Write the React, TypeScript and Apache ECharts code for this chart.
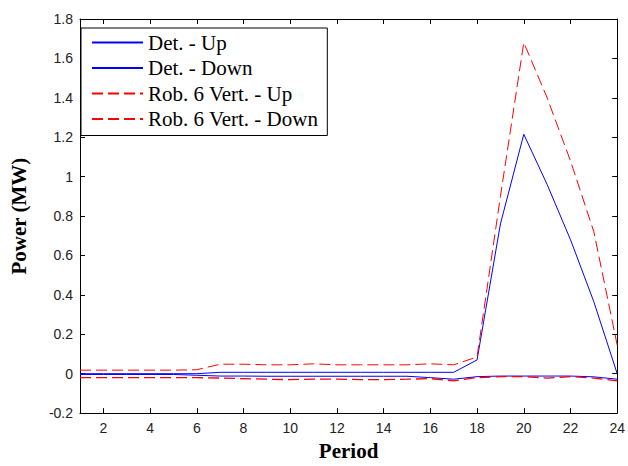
import React, { useEffect, useRef } from "react";
import * as echarts from "echarts";

const periods = Array.from({ length: 24 }, (_, i) => String(i + 1));

const detUp = [0, 0, 0, 0, 0, 0, 0.007, 0.007, 0.007, 0.007, 0.007, 0.007, 0.007, 0.007, 0.007, 0.007, 0.007, 0.07, 0.76, 1.215, 0.96, 0.68, 0.365, 0];
const detDown = [-0.004, -0.004, -0.004, -0.004, -0.004, -0.008, -0.012, -0.012, -0.013, -0.013, -0.013, -0.013, -0.013, -0.013, -0.013, -0.02, -0.028, -0.015, -0.012, -0.012, -0.012, -0.012, -0.016, -0.028];
const robUp = [0.018, 0.018, 0.018, 0.018, 0.018, 0.02, 0.048, 0.048, 0.045, 0.045, 0.05, 0.045, 0.045, 0.045, 0.045, 0.05, 0.045, 0.085, 0.9, 1.68, 1.4, 1.08, 0.72, 0.145];
const robDown = [-0.02, -0.02, -0.02, -0.02, -0.02, -0.02, -0.022, -0.025, -0.028, -0.03, -0.028, -0.028, -0.03, -0.03, -0.028, -0.025, -0.036, -0.02, -0.015, -0.015, -0.022, -0.015, -0.022, -0.036];

const seriesNames = ["Det. - Up", "Det. - Down", "Rob. 6 Vert. - Up", "Rob. 6 Vert. - Down"];

export default function App() {
  const ref = useRef<HTMLDivElement>(null);
  useEffect(() => {
    document.body.style.margin = "0";
    const chart = echarts.init(ref.current!, null, { renderer: "svg" });
    const evenOnly = (_i: number, v: string) => Number(v) % 2 === 0;
    const xBase = {
      type: "category",
      data: periods,
      boundaryGap: false,
      axisLine: { show: true, onZero: false, lineStyle: { color: "#000", width: 1 } },
      axisTick: { show: true, inside: true, length: 5, interval: evenOnly, lineStyle: { color: "#000" } },
      splitLine: { show: false },
    };
    const yBase = {
      type: "value",
      min: -0.2,
      max: 1.8,
      interval: 0.2,
      axisLine: { show: true, onZero: false, lineStyle: { color: "#000", width: 1 } },
      axisTick: { show: true, inside: true, length: 5, lineStyle: { color: "#000" } },
      splitLine: { show: false },
    };
    const dash = [11, 5];
    const titleStyle = { fontFamily: "Liberation Serif", fontSize: 21, fontWeight: "bold", color: "#000" };
    chart.setOption({
      animation: false,
      backgroundColor: "#fff",
      grid: { left: 72, right: 8, top: 19, bottom: 45 },
      legend: {
        orient: "vertical",
        left: 81,
        top: 28,
        itemWidth: 51,
        itemHeight: 14,
        itemGap: 4.5,
        padding: [4, 9, 6, 10],
        borderColor: "#000",
        borderWidth: 1,
        borderRadius: 0,
        backgroundColor: "#fff",
        itemStyle: { opacity: 0 },
        textStyle: { fontFamily: "Liberation Serif", fontSize: 21, color: "#000" },
        data: seriesNames,
      },
      xAxis: [
        {
          ...xBase,
          position: "bottom",
          name: "Period",
          nameLocation: "middle",
          nameGap: 24,
          nameTextStyle: titleStyle,
          axisLabel: { show: true, interval: evenOnly, margin: 8, fontFamily: "Liberation Sans", fontSize: 14, color: "#222" },
        },
        { ...xBase, position: "top", axisLabel: { show: false } },
      ],
      yAxis: [
        {
          ...yBase,
          position: "left",
          name: "Power (MW)",
          nameLocation: "middle",
          nameGap: 51,
          nameTextStyle: titleStyle,
          axisLabel: { show: true, margin: 7, fontFamily: "Liberation Sans", fontSize: 14, color: "#222" },
        },
        { ...yBase, position: "right", axisLabel: { show: false } },
      ],
      series: [
        { name: seriesNames[0], type: "line", data: detUp, symbol: "none", lineStyle: { color: "#0000ff", width: 1 }, itemStyle: { color: "#0000ff" } },
        { name: seriesNames[1], type: "line", data: detDown, symbol: "none", lineStyle: { color: "#0000ff", width: 1 }, itemStyle: { color: "#0000ff" } },
        { name: seriesNames[2], type: "line", data: robUp, symbol: "none", lineStyle: { color: "#ff0000", width: 1, type: dash }, itemStyle: { color: "#ff0000" } },
        { name: seriesNames[3], type: "line", data: robDown, symbol: "none", lineStyle: { color: "#ff0000", width: 1.3, type: dash }, itemStyle: { color: "#ff0000" } },
      ],
    });
    return () => chart.dispose();
  }, []);
  return <div ref={ref} style={{ width: 628, height: 466 }} />;
}
